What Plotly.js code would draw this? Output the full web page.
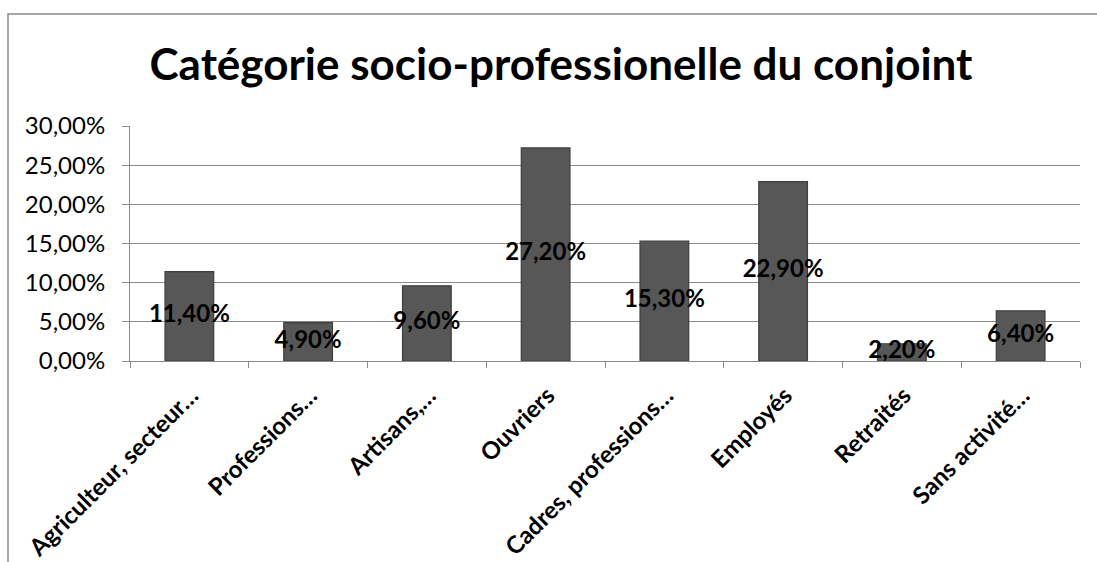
<!DOCTYPE html>
<html>
<head>
<meta charset="utf-8">
<script src="https://cdn.plot.ly/plotly-3.0.1.min.js"></script>
<style>html,body{margin:0;padding:0;background:#fff;}#chart{width:1097px;height:562px;}</style>
</head>
<body>
<div id="chart"></div>
<script>
const chartTitle = "Catégorie socio-professionelle du conjoint";
const categories = ["Agriculteur, secteur…", "Professions…", "Artisans,…", "Ouvriers", "Cadres, professions…", "Employés", "Retraités", "Sans activité…"];
const values = [0.114, 0.049, 0.096, 0.272, 0.153, 0.229, 0.022, 0.064];
const yTicks = [0, 0.05, 0.10, 0.15, 0.20, 0.25, 0.30];

const fmt = v => (v * 100).toFixed(2).replace('.', ',') + '%';
const FONT = "Lato, 'Open Sans', sans-serif";

const W = 1097, H = 562;
const L = 130, R = 17, T = 126, B = 201;
const px = X => (X - L) / (W - L - R);
const py = Y => (H - B - Y) / (H - T - B);

const traces = [
  {
    type: 'bar',
    x: categories,
    y: values,
    marker: { color: '#575757', line: { color: '#3e3e3e', width: 1.2 } },
    hoverinfo: 'none',
    cliponaxis: false
  },
  {
    type: 'scatter',
    mode: 'text',
    x: categories,
    y: values.map(v => v / 2),
    text: values.map(fmt),
    textposition: 'middle center',
    textfont: { family: FONT, size: 24, color: '#000', weight: 'bold' },
    hoverinfo: 'none',
    cliponaxis: false
  }
];

const layout = {
  width: W, height: H,
  margin: { l: L, r: R, t: T, b: B },
  paper_bgcolor: '#fff', plot_bgcolor: '#fff',
  showlegend: false,
  separators: ', ',
  bargap: 0.59,
  font: { family: FONT, color: '#000' },
  title: {
    text: '<b>' + chartTitle + '</b>',
    font: { family: FONT, size: 44, color: '#000' },
    x: px(561), xref: 'paper', xanchor: 'center',
    y: 1 - 65 / H, yref: 'container', yanchor: 'middle'
  },
  xaxis: {
    type: 'category',
    tickson: 'boundaries',
    ticks: 'outside', ticklen: 6, tickcolor: '#8a8a8a',
    showline: true, linecolor: '#8a8a8a', linewidth: 1,
    showgrid: false,
    tickangle: -45,
    ticklabelstandoff: 10,
    ticklabelshift: 2,
    tickfont: { family: FONT, size: 24, color: '#000', weight: 'bold' },
    range: [-0.5, 7.5]
  },
  yaxis: {
    range: [0, 0.30],
    tickvals: yTicks,
    tickformat: '.2%',
    ticks: 'outside', ticklen: 7, tickcolor: '#8a8a8a',
    showline: true, linecolor: '#8a8a8a', linewidth: 1,
    showgrid: true, gridcolor: '#8a8a8a', gridwidth: 1,
    zeroline: false,
    ticklabelstandoff: 12,
    tickfont: { family: FONT, size: 24, color: '#000' }
  },
  shapes: [
    {
      type: 'rect', xref: 'paper', yref: 'paper',
      x0: px(8), x1: px(1110), y0: py(580), y1: py(14),
      line: { color: '#8a8a8a', width: 1.5 }, fillcolor: 'rgba(0,0,0,0)', layer: 'below'
    }
  ]
};

Plotly.newPlot('chart', traces, layout, { staticPlot: true, displayModeBar: false });
</script>
</body>
</html>
